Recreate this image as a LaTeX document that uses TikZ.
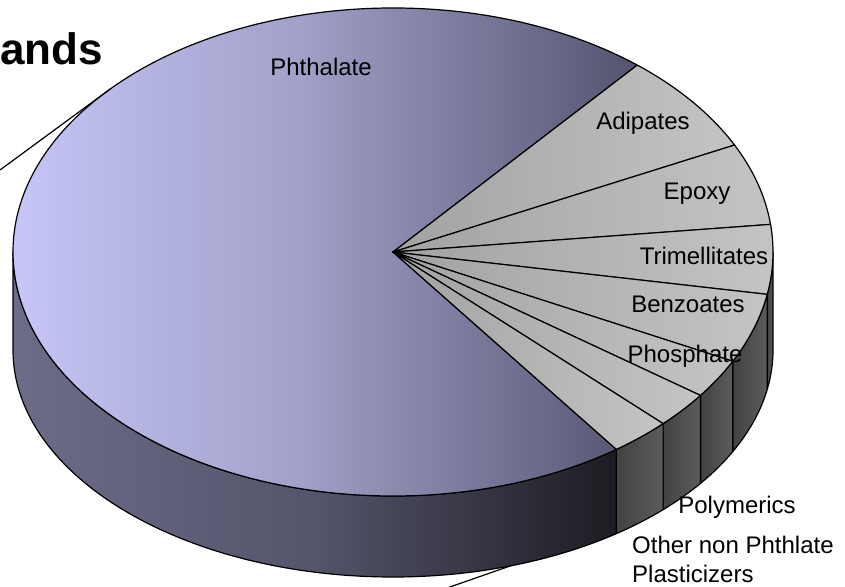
\documentclass[tikz,border=0pt]{standalone}
\usepackage{fontspec}
\setmainfont{Liberation Sans}
\usetikzlibrary{positioning}

\definecolor{phtopl}{RGB}{204,204,255}
\definecolor{phtopm}{RGB}{160,160,200}
\definecolor{phtopr}{RGB}{84,84,112}
\definecolor{phsidel}{RGB}{108,108,136}
\definecolor{phsidem}{RGB}{84,84,108}
\definecolor{phsider}{RGB}{28,28,34}
\definecolor{graytopl}{RGB}{162,162,162}
\definecolor{graytopr}{RGB}{196,196,196}
\definecolor{graysidel}{RGB}{66,66,66}
\definecolor{graysider}{RGB}{92,92,92}

\begin{document}
\begin{tikzpicture}[x=1pt, y=1pt,
  pieline/.style={line width=1.2pt, line join=round},
  upr/.style={x radius=380pt, y radius=244pt},
  lwr/.style={x radius=380pt, y radius=227pt},
  grayslice/.style={pieline, left color=graytopl, right color=graytopr},
  grayside/.style={pieline, left color=graysidel, right color=graysider},
  lbl/.style={font=\fontsize{24}{29}\selectfont, inner sep=0pt, anchor=base}]
\useasboundingbox (0,0) rectangle (845,586);
\clip (0,0) rectangle (845,586);
\coordinate (ctr) at (393,334);
\coordinate (bctr) at (393,236);
\foreach \a/\n in {180/l, 138/leadl, 50/pa, -54/op, -72/leadb} {
  \coordinate (up-\n) at ([shift={(\a:380pt and 244pt)}]ctr);
  \coordinate (lo-\n) at ([shift={(\a:380pt and 227pt)}]bctr);
}
\coordinate (lfree) at (0,416);
\coordinate (bfree) at (447,-2);

\draw[pieline, left color=phsidel, right color=phsider, middle color=phsidem]
  (up-l) -- (lo-l) arc[lwr, start angle=180, end angle=306] -- (up-op)
  arc[upr, start angle=306, end angle=180] -- cycle;
\foreach \a/\b in {0/-10, -10/-26.6, -26.6/-36, -36/-44.7, -44.7/-54}
  \draw[grayside] ([shift={(\a:380pt and 244pt)}]ctr) arc[upr, start angle=\a, end angle=\b]
    -- ([shift={(\b:380pt and 227pt)}]bctr) arc[lwr, start angle=\b, end angle=\a] -- cycle;

\draw[pieline, left color=phtopl, right color=phtopr, middle color=phtopm]
  (ctr) -- (up-pa) arc[upr, start angle=50, end angle=306] -- cycle;
\foreach \a/\b in {50/26, 26/6.5, 6.5/-10, -10/-26.6, -26.6/-36, -36/-44.7, -44.7/-54}
  \draw[grayslice] (ctr) -- ([shift={(\a:380pt and 244pt)}]ctr) arc[upr, start angle=\a, end angle=\b] -- cycle;

\draw[pieline] (lfree) -- (up-leadl);
\draw[pieline] (bfree) -- (lo-leadb);

\node[font=\fontsize{44}{50}\selectfont\bfseries, inner sep=0pt, anchor=base east] (title) at (103,521) {ands};
\node[lbl] (phth) at (321,510) {Phthalate};
\node[lbl] (adip) at (643,456) {Adipates};
\node[lbl] (epox) at (697,386) {Epoxy};
\node[lbl] (trim) at (704,321) {Trimellitates};
\node[lbl] (benz) at (688,273) {Benzoates};
\node[lbl] (phos) at (685,223) {Phosphate};
\node[lbl] (poly) at (737,73) {Polymerics};
\node[lbl, anchor=base west] (other) at (632,33) {Other non Phthlate};
\node[lbl, anchor=base west] (plast) at ([yshift=-29pt]other.base west) {Plasticizers};
\end{tikzpicture}
\end{document}
